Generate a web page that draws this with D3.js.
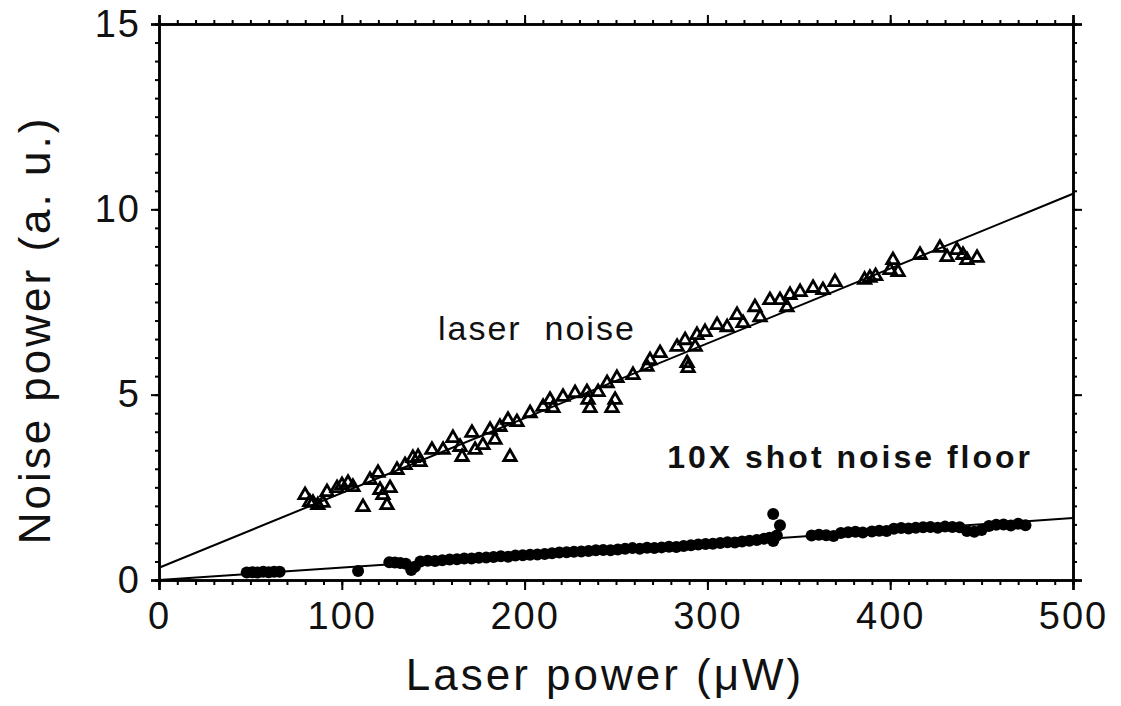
<!DOCTYPE html>
<html>
<head>
<meta charset="utf-8">
<script src="https://cdn.jsdelivr.net/npm/d3@7"></script>
<style>
  body { margin: 0; background: #fff; }
  svg { display: block; }
</style>
</head>
<body>
<div id="graphContainer"></div>
<script>
// laser noise points (triangles), [laser power uW, noise power a.u.]
const laserNoise = [
    [79.9, 2.29], [82.5, 2.10], [84.2, 2.08], [86.9, 2.02], [89.7, 2.08], [91.9, 2.37],
    [97.4, 2.48], [100.1, 2.56], [103.4, 2.62], [106.1, 2.51], [111.6, 1.97], [115.4, 2.70],
    [119.8, 2.89], [120.9, 2.43], [122.5, 2.29], [124.7, 2.02], [126.4, 2.48], [130.2, 2.97],
    [134.6, 3.10], [138.9, 3.29], [141.7, 3.32], [142.8, 3.18], [149.3, 3.51], [155.4, 3.51],
    [160.8, 3.83], [164.7, 3.59], [165.8, 3.32], [171.2, 3.97], [172.9, 3.51], [177.2, 3.64],
    [181.1, 4.05], [183.8, 3.78], [186.5, 4.13], [190.9, 4.32], [192.0, 3.32], [195.8, 4.26],
    [203.0, 4.50], [210.1, 4.67], [213.9, 4.86], [215.5, 4.64], [221.0, 4.94], [227.6, 5.04],
    [234.1, 5.07], [234.7, 4.86], [235.8, 4.64], [240.2, 5.07], [245.1, 5.31], [247.8, 4.64],
    [249.5, 4.86], [250.5, 5.45], [259.3, 5.53], [266.9, 5.75], [268.6, 5.93], [274.1, 6.12],
    [283.4, 6.29], [287.8, 6.47], [288.9, 5.85], [289.4, 5.72], [293.3, 6.29], [294.3, 6.61],
    [298.7, 6.69], [305.3, 6.88], [310.8, 6.82], [316.2, 7.15], [319.5, 6.93], [326.0, 7.36],
    [328.8, 7.09], [334.2, 7.55], [339.7, 7.55], [343.5, 7.36], [345.2, 7.69], [350.7, 7.77],
    [357.8, 7.88], [363.2, 7.82], [369.8, 8.04], [386.0, 8.10], [388.9, 8.15], [392.0, 8.20],
    [399.9, 8.36], [401.5, 8.63], [404.3, 8.31], [416.3, 8.77], [427.2, 8.96], [431.1, 8.71],
    [436.5, 8.90], [439.8, 8.77], [442.0, 8.63], [447.5, 8.69]
];

// 10X shot noise floor points (filled circles)
const shotNoise = [
    [48, 0.20], [51, 0.21], [54, 0.20], [57, 0.22], [60, 0.21], [63, 0.22], [66, 0.22],
    [108.9, 0.24],
    [126, 0.48], [129, 0.47], [132, 0.46], [135, 0.44], [138, 0.27], [140, 0.36], [143, 0.50],
    [147, 0.52], [151, 0.51], [155, 0.53], [159, 0.55], [163, 0.56], [167, 0.58], [171, 0.58],
    [175, 0.60], [179, 0.61], [183, 0.62], [187, 0.64], [191, 0.63], [195, 0.66], [199, 0.67],
    [203, 0.68], [207, 0.69], [211, 0.70], [215, 0.72], [219, 0.74], [223, 0.75], [227, 0.76],
    [231, 0.77], [235, 0.78], [239, 0.80], [243, 0.81], [247, 0.80], [251, 0.82], [255, 0.84],
    [259, 0.86], [263, 0.84], [267, 0.87], [271, 0.86], [275, 0.88], [279, 0.90], [283, 0.89],
    [287, 0.92], [291, 0.94], [295, 0.96], [299, 0.97], [303, 0.98], [307, 1.00], [311, 1.02],
    [315, 1.01], [319, 1.04], [323, 1.06], [327, 1.08], [331, 1.11], [334, 1.14], [336, 1.05],
    [336, 1.78], [338, 1.20], [339.7, 1.48],
    [357, 1.20], [361, 1.22], [365, 1.21], [369, 1.19], [373, 1.27], [377, 1.29], [381, 1.30],
    [385, 1.28], [390, 1.31], [394, 1.33], [398, 1.32], [402, 1.38], [406, 1.40], [410, 1.39],
    [414, 1.41], [418, 1.42], [422, 1.43], [426, 1.41], [430, 1.44], [434, 1.43], [438, 1.42],
    [442, 1.32], [446, 1.30], [450, 1.35], [454, 1.46], [458, 1.49], [462, 1.50], [466, 1.47],
    [470, 1.52], [474, 1.48]
];

// fit lines, value at x = 0 and x = 500
const laserFit = [[0, 0.33], [500, 10.42]];
const shotFit = [[0, 0.0], [500, 1.67]];

const xTicks = [0, 100, 200, 300, 400, 500];
const yTicks = [0, 5, 10, 15];
const xMinor = d3.range(0, 501, 10);
const yMinor = d3.range(0, 15.01, 0.5);

const labels = [
    { text: "laser  noise", x: 152.6, y: 6.47, bold: false, size: 34, sp: 2 },
    { text: "10X shot noise floor", x: 278, y: 3.02, bold: true, size: 32, sp: 3 }
];

const W = 1121, H = 706;
const margin = { top: 24, right: 48, bottom: 126, left: 159 };
const width = W - margin.left - margin.right;
const height = H - margin.top - margin.bottom;

const svg = d3.select("#graphContainer").append("svg")
    .attr("width", W)
    .attr("height", H)
    .style("font-family", "'Liberation Sans', Arial, sans-serif");

const g = svg.append("g")
    .attr("transform", `translate(${margin.left},${margin.top})`);

const x = d3.scaleLinear().domain([0, 500]).range([0, width]);
const y = d3.scaleLinear().domain([0, 15]).range([height, 0]);

// minor ticks on all four sides
function minorAxis(axisFn, scale, vals, size) {
    return axisFn(scale).tickValues(vals).tickSize(size).tickFormat("");
}
g.append("g").attr("class", "ax").attr("transform", `translate(0,${height})`)
    .call(minorAxis(d3.axisBottom, x, xMinor, 5));
g.append("g").attr("class", "ax")
    .call(minorAxis(d3.axisTop, x, xMinor, 4));
g.append("g").attr("class", "ax")
    .call(minorAxis(d3.axisLeft, y, yMinor, 4));
g.append("g").attr("class", "ax").attr("transform", `translate(${width},0)`)
    .call(minorAxis(d3.axisRight, y, yMinor, 4));

// major ticks
g.append("g").attr("class", "ax xlab").attr("transform", `translate(0,${height})`)
    .call(d3.axisBottom(x).tickValues(xTicks).tickSize(10).tickPadding(12));
g.append("g").attr("class", "ax")
    .call(d3.axisTop(x).tickValues(xTicks).tickSize(9).tickFormat(""));
g.append("g").attr("class", "ax ylab")
    .call(d3.axisLeft(y).tickValues(yTicks).tickSize(8).tickPadding(10));
g.append("g").attr("class", "ax").attr("transform", `translate(${width},0)`)
    .call(d3.axisRight(y).tickValues(yTicks).tickSize(9).tickFormat(""));

g.selectAll(".ax .domain").attr("stroke", "#000").attr("stroke-width", 2.5);
g.selectAll(".ax .tick line").attr("stroke", "#000").attr("stroke-width", 2);
g.selectAll(".xlab text, .ylab text")
    .attr("fill", "#111")
    .style("font-size", "38px")
    .style("letter-spacing", "2px");

// fit lines
const line = d3.line().x(d => x(d[0])).y(d => y(d[1]));
[laserFit, shotFit].forEach(f => {
    g.append("path")
        .datum(f)
        .attr("d", line)
        .attr("fill", "none")
        .attr("stroke", "#000")
        .attr("stroke-width", 2);
});

// triangles
const tri = d3.symbol().type(d3.symbolTriangle).size(66);
g.selectAll(".tri")
    .data(laserNoise)
    .enter()
    .append("path")
    .attr("class", "tri")
    .attr("transform", d => `translate(${x(d[0])},${y(d[1])})`)
    .attr("d", tri)
    .attr("fill", "none")
    .attr("stroke", "#000")
    .attr("stroke-width", 2.8);

// filled dots
g.selectAll(".dot")
    .data(shotNoise)
    .enter()
    .append("circle")
    .attr("class", "dot")
    .attr("cx", d => x(d[0]))
    .attr("cy", d => y(d[1]))
    .attr("r", 6)
    .attr("fill", "#000");

// annotations
g.selectAll(".note")
    .data(labels)
    .enter()
    .append("text")
    .attr("class", "note")
    .attr("x", d => x(d.x))
    .attr("y", d => y(d.y))
    .style("font-size", d => d.size + "px")
    .style("font-weight", d => d.bold ? "bold" : "normal")
    .style("letter-spacing", d => d.sp + "px")
    .style("white-space", "pre")
    .attr("fill", "#111")
    .text(d => d.text);

// axis titles
svg.append("text")
    .attr("x", 605)
    .attr("y", 690)
    .attr("text-anchor", "middle")
    .style("font-size", "44px")
    .style("letter-spacing", "3px")
    .attr("fill", "#111")
    .text("Laser power (\u03BCW)");

svg.append("text")
    .attr("transform", "translate(50,330) rotate(-90)")
    .attr("text-anchor", "middle")
    .style("font-size", "44px")
    .style("letter-spacing", "3px")
    .attr("fill", "#111")
    .text("Noise power (a. u.)");
</script>
</body>
</html>
